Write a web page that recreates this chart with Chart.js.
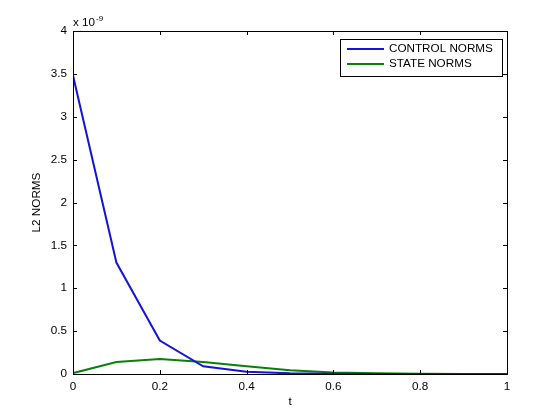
<!DOCTYPE html>
<html><head><meta charset="utf-8">
<script src="https://cdn.jsdelivr.net/npm/chart.js@4"></script>
<style>html,body{margin:0;padding:0;background:#fff}#w{width:560px;height:420px}</style>
</head><body><div id="w"><canvas id="c" width="560" height="420"></canvas></div>
<script>
const tValues = [0, 0.1, 0.2, 0.3, 0.4, 0.5, 0.6, 0.7, 0.8, 0.9, 1.0];
const controlNorms = [3.48, 1.30, 0.39, 0.09, 0.025, 0.008, 0.003, 0.001, 0.0005, 0.0002, 0.0001];
const stateNorms = [0.01, 0.14, 0.175, 0.14, 0.09, 0.045, 0.018, 0.008, 0.003, 0.001, 0.0005];
const seriesNames = ['CONTROL NORMS', 'STATE NORMS'];
const xTicks = [0, 0.2, 0.4, 0.6, 0.8, 1];
const yTicks = [0, 0.5, 1, 1.5, 2, 2.5, 3, 3.5, 4];
const FONT = 'Liberation Sans, Arial, sans-serif';
const FS = 11.7;
const BLUE = '#1414d8', GREEN = '#0a800a';

const deco = {
  id: 'deco',
  afterDraw(chart) {
    const ctx = chart.ctx, a = chart.chartArea;
    const xs = chart.scales.x, ys = chart.scales.y;
    ctx.save();
    ctx.strokeStyle = '#000'; ctx.lineWidth = 1;
    ctx.strokeRect(Math.round(a.left) + 0.5, Math.round(a.top) + 0.5, Math.round(a.right - a.left), Math.round(a.bottom - a.top));
    ctx.beginPath();
    xTicks.forEach(v => {
      const p = Math.round(xs.getPixelForValue(v)) + 0.5;
      ctx.moveTo(p, a.bottom); ctx.lineTo(p, a.bottom - 4);
      ctx.moveTo(p, a.top); ctx.lineTo(p, a.top + 4);
    });
    yTicks.forEach(v => {
      const p = Math.round(ys.getPixelForValue(v)) + 0.5;
      ctx.moveTo(a.left, p); ctx.lineTo(a.left + 4, p);
      ctx.moveTo(a.right, p); ctx.lineTo(a.right - 4, p);
    });
    ctx.stroke();
    ctx.fillStyle = '#000';
    ctx.font = FS + 'px ' + FONT;
    ctx.textBaseline = 'alphabetic'; ctx.textAlign = 'left';
    ctx.fillText('x 10', a.left, a.top - 5);
    ctx.font = '8px ' + FONT;
    ctx.fillText('-9', a.left + 23, a.top - 10);
    ctx.font = FS + 'px ' + FONT;
    ctx.textAlign = 'center'; ctx.textBaseline = 'middle';
    ctx.fillText('t', (a.left + a.right) / 2, 402);
    ctx.save();
    ctx.translate(37, (a.top + a.bottom) / 2);
    ctx.rotate(-Math.PI / 2);
    ctx.fillText('L2 NORMS', 0, 0);
    ctx.restore();
    // legend
    const lx = 340.5, ly = 39.5, lw = 162, lh = 37;
    ctx.fillStyle = '#fff';
    ctx.fillRect(lx, ly, lw, lh);
    ctx.strokeRect(lx, ly, lw, lh);
    const cols = [BLUE, GREEN];
    seriesNames.forEach((n, i) => {
      const y = 49 + i * 15;
      ctx.strokeStyle = cols[i]; ctx.lineWidth = 2;
      ctx.beginPath(); ctx.moveTo(347, y); ctx.lineTo(384, y); ctx.stroke();
      ctx.fillStyle = '#000'; ctx.textAlign = 'left'; ctx.textBaseline = 'middle';
      ctx.fillText(n, 389, y);
    });
    ctx.restore();
  }
};

new Chart(document.getElementById('c'), {
  type: 'line',
  data: {
    datasets: [
      { label: seriesNames[0], data: tValues.map((t, i) => ({x: t, y: controlNorms[i]})), borderColor: BLUE, borderWidth: 2, pointRadius: 0, tension: 0, fill: false },
      { label: seriesNames[1], data: tValues.map((t, i) => ({x: t, y: stateNorms[i]})), borderColor: GREEN, borderWidth: 2, pointRadius: 0, tension: 0, fill: false }
    ]
  },
  options: {
    responsive: false, animation: false, devicePixelRatio: 1,
    layout: { padding: { left: 0, top: 31, right: 53, bottom: 0 } },
    plugins: { legend: { display: false }, tooltip: { enabled: false } },
    scales: {
      x: {
        type: 'linear', min: 0, max: 1,
        afterBuildTicks: s => { s.ticks = xTicks.map(v => ({value: v})); },
        afterFit: s => { s.height = 46; },
        grid: { display: false, drawTicks: false },
        border: { display: false },
        ticks: { color: '#000', font: { family: FONT, size: FS }, padding: 6, callback: v => String(v) , maxRotation: 0}
      },
      y: {
        type: 'linear', min: 0, max: 4,
        afterBuildTicks: s => { s.ticks = yTicks.map(v => ({value: v})); },
        afterFit: s => { s.width = 73; },
        grid: { display: false, drawTicks: false },
        border: { display: false },
        ticks: { color: '#000', font: { family: FONT, size: FS }, padding: 6, callback: v => String(v) }
      }
    }
  },
  plugins: [deco]
});
</script></body></html>
